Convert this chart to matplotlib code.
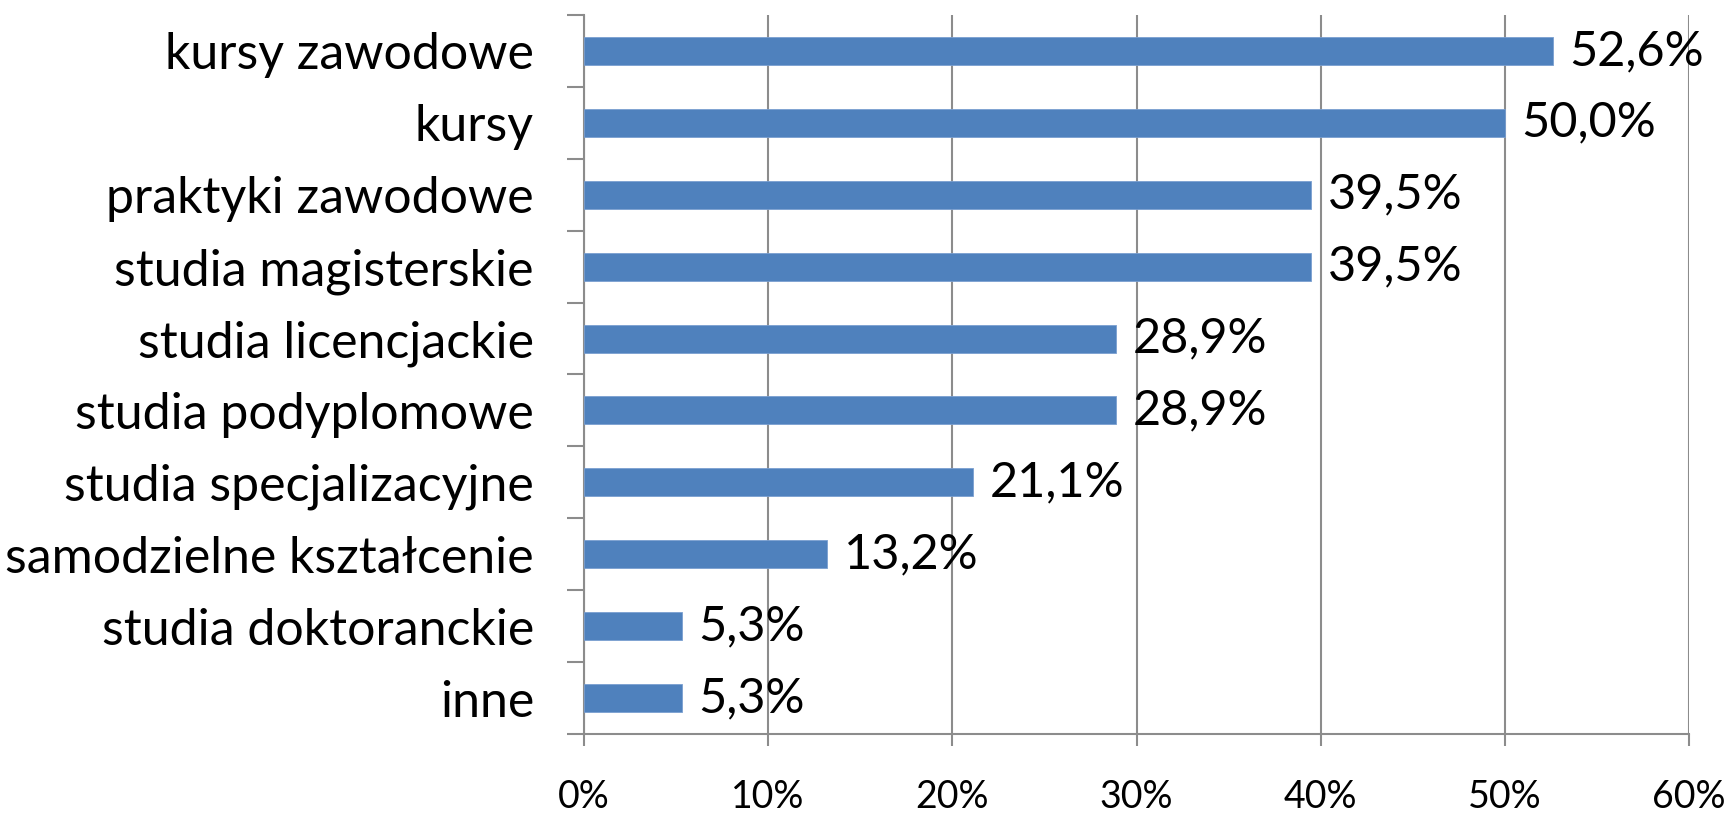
import matplotlib
matplotlib.use("Agg")
import matplotlib.pyplot as plt
from matplotlib.ticker import FixedLocator, PercentFormatter

categories = ["kursy zawodowe", "kursy", "praktyki zawodowe", "studia magisterskie",
              "studia licencjackie", "studia podyplomowe", "studia specjalizacyjne",
              "samodzielne kształcenie", "studia doktoranckie", "inne"]
values = [52.6, 50.0, 39.5, 39.5, 28.9, 28.9, 21.1, 13.2, 5.3, 5.3]
xticks = [0, 10, 20, 30, 40, 50, 60]

plt.rcParams['font.family'] = ['Lato', 'DejaVu Sans']

W, H, DPI = 1727, 819, 100
fig = plt.figure(figsize=(W / DPI, H / DPI), dpi=DPI)
ax = fig.add_axes([584 / W, 85 / H, 1105 / W, 719 / H])

grey = '#8c8c8c'
ypos = list(range(len(categories)))
ax.barh(ypos, values, height=0.39, color='#4F81BD', edgecolor='#7a9fd0', linewidth=0.6, zorder=3)

for y, v in zip(ypos, values):
    ax.annotate(f"{v:.1f}%".replace('.', ','), xy=(v, y), xytext=(12, 0),
                textcoords='offset points', va='center', ha='left', fontsize=35, zorder=4)

ax.set_xlim(0, 60)
ax.set_ylim(len(categories) - 0.5, -0.5)
ax.set_xticks(xticks)
ax.xaxis.set_major_formatter(PercentFormatter(decimals=0))
ax.grid(axis='x', color=grey, linewidth=1.5, zorder=0)
ax.set_axisbelow(True)

ax.set_yticks(ypos)
ax.set_yticklabels(categories)
ax.yaxis.set_minor_locator(FixedLocator([i - 0.5 for i in range(len(categories) + 1)]))
ax.tick_params(axis='y', which='major', length=0, pad=36, labelsize=36)
ax.tick_params(axis='y', which='minor', length=12, width=1.5, color=grey, direction='out')
ax.tick_params(axis='x', which='major', length=8.6, width=1.5, color=grey, pad=24, labelsize=27)

for s in ['top', 'right']:
    ax.spines[s].set_visible(False)
for s in ['left', 'bottom']:
    ax.spines[s].set_color(grey)
    ax.spines[s].set_linewidth(1.5)

fig.savefig('out.png', dpi=DPI)
